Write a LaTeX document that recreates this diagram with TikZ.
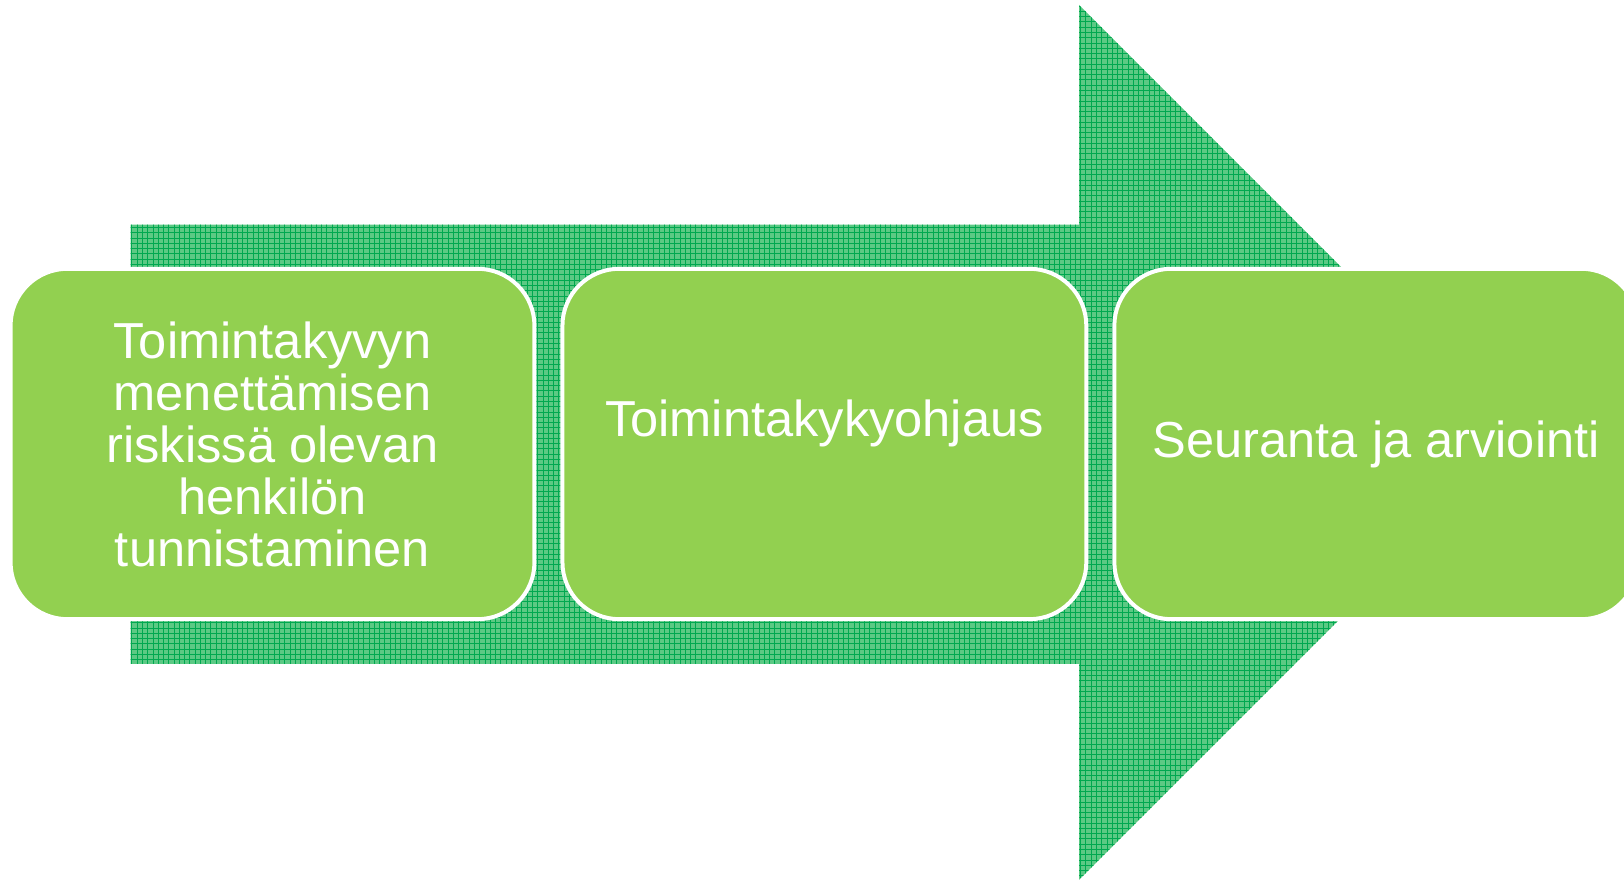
\documentclass[tikz,border=0pt]{standalone}
\usepackage{fontspec}
\setmainfont{Liberation Sans}
\usepackage{tikz}
\usetikzlibrary{patterns,positioning}
\definecolor{boxgreen}{RGB}{146,208,80}
\definecolor{arrowgreen}{RGB}{92,201,132}
\definecolor{gridgreen}{RGB}{0,168,80}

\begin{document}
\begin{tikzpicture}[x=0.02cm,y=0.02cm,
        stage/.style={rectangle,rounded corners=1.14cm,draw=white,line width=2.27pt,fill=boxgreen,
            text=white,align=center,inner sep=0pt,outer sep=0pt,
            minimum width=10.48cm,minimum height=7.01cm,font=\fontsize{28.8}{29.6}\selectfont}]
        \useasboundingbox (0,0) rectangle (1624,881);
        \path[fill=arrowgreen,postaction={pattern=grid,pattern color=gridgreen}]
            (130.5,217) -- (1079,217) -- (1079,1) -- (1516.5,438.5) -- (1079,876) -- (1079,656.3) -- (130.5,656.3) -- cycle;
        \node[stage] (tunnistus) at (272.5,437) {Toimintakyvyn\\menettämisen\\riskissä olevan\\henkilön\\tunnistaminen};
        \node[stage,right=0.56cm of tunnistus] (ohjaus) {Toimintakykyohjaus\\\mbox{}};
        \node[stage,right=0.56cm of ohjaus] (seuranta) {Seuranta ja arviointi};
\end{tikzpicture}
\end{document}
